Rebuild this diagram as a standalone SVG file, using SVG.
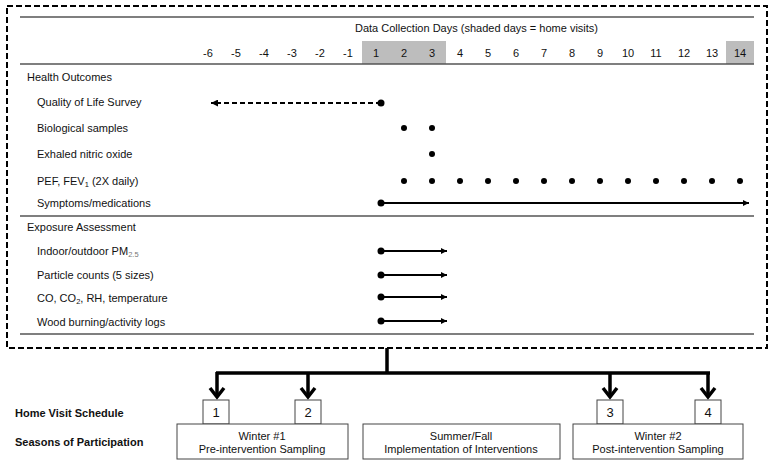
<svg xmlns="http://www.w3.org/2000/svg" width="774" height="465" viewBox="0 0 774 465">
<defs>
<marker id="ah" viewBox="0 0 10 10" refX="10" refY="5" markerWidth="9" markerHeight="6" markerUnits="userSpaceOnUse" orient="auto"><path d="M0,0 L10,5 L0,10 z" fill="#000"/></marker>
<marker id="ahl" viewBox="0 0 10 10" refX="10" refY="5" markerWidth="9" markerHeight="7" markerUnits="userSpaceOnUse" orient="auto"><path d="M0,0 L10,5 L0,10 z" fill="#000"/></marker>
</defs>
<style>
text{font-family:"Liberation Sans",Arial,sans-serif;font-size:11px;fill:#111}
.b{font-weight:bold}
.c{text-anchor:middle}
.rule{stroke:#555;stroke-width:1.3;fill:none}
.shade{fill:#bdbdbd}
.dot{fill:#000}
.ln{stroke:#000;stroke-width:2;fill:none}
.thick{stroke:#000;stroke-width:3.5;fill:none}
.chev{stroke:#000;stroke-width:3.5;fill:none;stroke-linejoin:miter}
.box{fill:#fff;stroke:#444;stroke-width:1}
.num{font-size:13px}
</style>
<rect width="774" height="465" fill="#fff"/>

<g id="frame">
<rect x="7" y="6" width="760" height="342" fill="none" stroke="#000" stroke-width="2" stroke-dasharray="6,3"/>
</g>

<g id="header">
<rect class="shade" x="362" y="41" width="84" height="23"/>
<rect class="shade" x="726" y="41" width="28" height="23"/>
<line class="rule" x1="20" y1="17" x2="754" y2="17"/>
<line class="rule" x1="20" y1="64" x2="754" y2="64"/>
<text x="355" y="32">Data Collection Days (shaded days = home visits)</text>
<g>
<text class="c" x="208" y="57">-6</text>
<text class="c" x="236" y="57">-5</text>
<text class="c" x="264" y="57">-4</text>
<text class="c" x="292" y="57">-3</text>
<text class="c" x="320" y="57">-2</text>
<text class="c" x="348" y="57">-1</text>
<text class="c" x="376" y="57">1</text>
<text class="c" x="404" y="57">2</text>
<text class="c" x="432" y="57">3</text>
<text class="c" x="460" y="57">4</text>
<text class="c" x="488" y="57">5</text>
<text class="c" x="516" y="57">6</text>
<text class="c" x="544" y="57">7</text>
<text class="c" x="572" y="57">8</text>
<text class="c" x="600" y="57">9</text>
<text class="c" x="628" y="57">10</text>
<text class="c" x="656" y="57">11</text>
<text class="c" x="684" y="57">12</text>
<text class="c" x="712" y="57">13</text>
<text class="c" x="740" y="57">14</text>
</g>
</g>

<g id="health-outcomes">
<text x="27" y="81">Health Outcomes</text>
<text x="37" y="106">Quality of Life Survey</text>
<text x="37" y="132">Biological samples</text>
<text x="37" y="158">Exhaled nitric oxide</text>
<text x="37" y="185">PEF, FEV<tspan font-size="7.5" dy="2">1</tspan><tspan dy="-2"> (2X daily)</tspan></text>
<text x="37" y="207">Symptoms/medications</text>
<line class="rule" x1="20" y1="216" x2="754" y2="216"/>
</g>

<g id="exposure">
<text x="27" y="231">Exposure Assessment</text>
<text x="37" y="255">Indoor/outdoor PM<tspan font-size="7.5" dy="2" fill="#777">2.5</tspan></text>
<text x="37" y="279">Particle counts (5 sizes)</text>
<text x="37" y="302">CO, CO<tspan font-size="7.5" dy="2">2</tspan><tspan dy="-2">, RH, temperature</tspan></text>
<text x="37" y="326">Wood burning/activity logs</text>
<line class="rule" x1="20" y1="334" x2="754" y2="334"/>
</g>

<g id="connectors">
<line class="ln" x1="381" y1="103" x2="211" y2="103" stroke-dasharray="5,3" marker-end="url(#ahl)"/>
<circle class="dot" cx="381" cy="103" r="3.5"/>
<circle class="dot" cx="404" cy="128" r="3"/>
<circle class="dot" cx="432" cy="128" r="3"/>
<circle class="dot" cx="432" cy="154" r="3"/>
<g>
<circle class="dot" cx="404" cy="181" r="3"/>
<circle class="dot" cx="432" cy="181" r="3"/>
<circle class="dot" cx="460" cy="181" r="3"/>
<circle class="dot" cx="488" cy="181" r="3"/>
<circle class="dot" cx="516" cy="181" r="3"/>
<circle class="dot" cx="544" cy="181" r="3"/>
<circle class="dot" cx="572" cy="181" r="3"/>
<circle class="dot" cx="600" cy="181" r="3"/>
<circle class="dot" cx="628" cy="181" r="3"/>
<circle class="dot" cx="656" cy="181" r="3"/>
<circle class="dot" cx="684" cy="181" r="3"/>
<circle class="dot" cx="712" cy="181" r="3"/>
<circle class="dot" cx="740" cy="181" r="3"/>
</g>
<line class="ln" x1="381" y1="203" x2="749" y2="203" marker-end="url(#ah)"/>
<circle class="dot" cx="381" cy="203" r="3.5"/>
<line class="ln" x1="381" y1="251" x2="447" y2="251" marker-end="url(#ah)"/>
<circle class="dot" cx="381" cy="251" r="3.5"/>
<line class="ln" x1="381" y1="275" x2="447" y2="275" marker-end="url(#ah)"/>
<circle class="dot" cx="381" cy="275" r="3.5"/>
<line class="ln" x1="381" y1="297" x2="447" y2="297" marker-end="url(#ah)"/>
<circle class="dot" cx="381" cy="297" r="3.5"/>
<line class="ln" x1="381" y1="321" x2="447" y2="321" marker-end="url(#ah)"/>
<circle class="dot" cx="381" cy="321" r="3.5"/>

<path class="thick" d="M387,348 V373 M216,373 H710"/>
<path class="thick" d="M217,372 V397 M308,372 V397 M610,372 V397 M708,372 V397"/>
<path class="chev" d="M210,388 L217,397 L224,388 M301,388 L308,397 L315,388 M603,388 L610,397 L617,388 M701,388 L708,397 L715,388"/>
</g>

<g id="labels-bottom">
<text class="b" x="15" y="417">Home Visit Schedule</text>
<text class="b" x="15" y="446">Seasons of Participation</text>
</g>

<g id="visit-1"><rect class="box" x="203" y="400" width="26" height="24"/><text class="c num" x="216" y="417">1</text></g>
<g id="visit-2"><rect class="box" x="295" y="400" width="26" height="24"/><text class="c num" x="308" y="417">2</text></g>
<g id="visit-3"><rect class="box" x="597" y="400" width="26" height="24"/><text class="c num" x="610" y="417">3</text></g>
<g id="visit-4"><rect class="box" x="695" y="400" width="26" height="24"/><text class="c num" x="708" y="417">4</text></g>

<g id="season-winter1"><rect class="box" x="177" y="424" width="171" height="35"/><text class="c" x="262" y="440">Winter #1</text><text class="c" x="262" y="453">Pre-intervention Sampling</text></g>
<g id="season-summer"><rect class="box" x="363" y="424" width="197" height="35"/><text class="c" x="461" y="440">Summer/Fall</text><text class="c" x="461" y="453">Implementation of Interventions</text></g>
<g id="season-winter2"><rect class="box" x="573" y="424" width="170" height="35"/><text class="c" x="658" y="440">Winter #2</text><text class="c" x="658" y="453">Post-intervention Sampling</text></g>
</svg>
